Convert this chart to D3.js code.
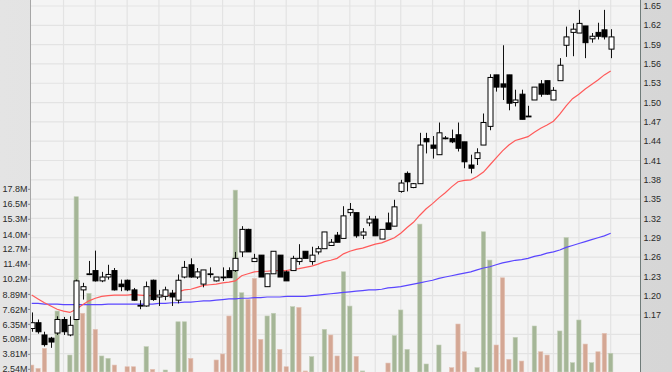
<!DOCTYPE html>
<html>
<head>
<meta charset="utf-8">
<script src="https://cdn.jsdelivr.net/npm/d3@7"></script>
<style>
    body { margin: 0; background: #fff; }
    svg { display: block; font-family: "Liberation Sans", Arial, sans-serif; }
</style>
</head>
<body>
<div id="chart"></div>
<script>
// Daily candles (price)
const opens = [1.149,1.158,1.139,1.134,1.142,1.163,1.139,1.163,1.209,1.234,
    1.239,1.223,1.229,1.239,1.218,1.224,1.209,1.185,1.184,1.224,
    1.198,1.199,1.204,1.193,1.229,1.248,1.229,1.218,1.234,1.223,
    1.229,1.239,1.239,1.268,1.303,1.253,1.263,1.214,1.234,1.263,
    1.237,1.239,1.253,1.269,1.253,1.268,1.273,1.278,1.294,1.289,
    1.329,1.329,1.294,1.313,1.319,1.288,1.313,1.308,1.362,1.390,
    1.368,1.374,1.444,1.434,1.419,1.444,1.444,1.450,1.439,1.403,
    1.413,1.434,1.463,1.543,1.529,1.543,1.500,1.513,1.479,1.504,
    1.529,1.534,1.504,1.534,1.589,1.609,1.608,1.619,1.599,1.609,
    1.613,1.583];
const highs = [1.174,1.163,1.144,1.136,1.168,1.167,1.168,1.225,1.220,1.254,
    1.270,1.237,1.248,1.243,1.225,1.225,1.212,1.193,1.222,1.225,
    1.209,1.214,1.209,1.233,1.254,1.258,1.243,1.240,1.244,1.229,
    1.244,1.244,1.268,1.308,1.304,1.265,1.263,1.234,1.269,1.263,
    1.239,1.262,1.280,1.269,1.276,1.277,1.299,1.288,1.299,1.339,
    1.344,1.329,1.305,1.324,1.324,1.303,1.329,1.349,1.380,1.393,
    1.375,1.453,1.453,1.448,1.469,1.448,1.458,1.469,1.439,1.419,
    1.429,1.483,1.544,1.543,1.589,1.543,1.520,1.520,1.495,1.524,
    1.535,1.534,1.524,1.569,1.618,1.623,1.644,1.619,1.608,1.624,
    1.644,1.614];
const lows = [1.144,1.141,1.121,1.119,1.139,1.139,1.137,1.162,1.194,1.232,
    1.222,1.221,1.225,1.208,1.207,1.207,1.192,1.179,1.183,1.192,
    1.184,1.193,1.184,1.188,1.227,1.228,1.226,1.213,1.228,1.222,
    1.223,1.228,1.237,1.260,1.268,1.253,1.229,1.214,1.234,1.229,
    1.223,1.239,1.248,1.258,1.248,1.264,1.273,1.278,1.283,1.289,
    1.324,1.290,1.288,1.308,1.293,1.288,1.303,1.308,1.360,1.362,
    1.367,1.374,1.421,1.413,1.419,1.443,1.437,1.424,1.398,1.390,
    1.403,1.434,1.457,1.517,1.504,1.488,1.494,1.474,1.479,1.504,
    1.509,1.512,1.504,1.534,1.571,1.572,1.608,1.569,1.593,1.598,
    1.598,1.569];
const closes = [1.158,1.144,1.124,1.128,1.163,1.144,1.154,1.223,1.214,1.234,
    1.223,1.229,1.233,1.209,1.214,1.209,1.193,1.185,1.214,1.194,
    1.201,1.209,1.198,1.224,1.244,1.229,1.237,1.240,1.234,1.229,
    1.229,1.228,1.258,1.303,1.268,1.258,1.229,1.234,1.269,1.229,
    1.223,1.258,1.258,1.258,1.263,1.273,1.299,1.283,1.283,1.324,
    1.334,1.293,1.299,1.319,1.293,1.303,1.303,1.338,1.375,1.377,
    1.374,1.434,1.439,1.429,1.453,1.445,1.439,1.429,1.408,1.398,
    1.422,1.469,1.539,1.524,1.524,1.499,1.504,1.474,1.479,1.524,
    1.513,1.513,1.519,1.558,1.602,1.614,1.623,1.593,1.603,1.603,
    1.602,1.602];

// Volume in millions, and whether the bar is drawn as an up day (green)
const volumes = [2.90,2.62,4.32,2.00,7.48,2.00,3.75,17.17,7.29,8.98,
    5.93,3.67,3.47,2.90,2.00,2.76,2.76,2.00,4.46,2.54,
    2.00,2.48,2.00,6.57,6.57,3.47,2.00,2.00,2.00,3.33,
    3.84,7.06,17.73,9.03,8.47,10.25,5.08,7.06,7.29,4.23,
    2.76,7.85,7.79,2.40,3.61,2.00,5.93,5.45,3.67,10.81,
    7.90,3.64,2.40,2.00,2.00,2.00,3.07,5.40,7.57,4.23,
    2.00,14.85,2.99,2.00,4.60,2.00,2.68,6.38,4.03,2.00,
    2.68,14.20,11.80,4.60,10.30,3.39,5.25,3.24,2.00,6.21,
    4.03,3.75,2.00,5.79,13.71,3.10,6.72,4.68,3.10,4.03,
    5.59,3.90];
const volumeUp = [0,0,0,0,1,0,1,1,0,1,
    0,1,1,0,0,0,0,1,1,0,
    0,1,0,1,1,0,1,1,1,0,
    0,0,1,1,0,0,0,1,1,0,
    0,1,0,0,1,1,1,0,0,1,
    1,0,1,0,1,0,0,1,1,1,
    0,1,1,1,1,0,0,0,0,0,
    1,1,1,0,0,0,1,0,1,1,
    0,0,1,1,1,1,1,0,1,0,
    0,1];

// Moving averages as drawn (red = short, blue = long)
const maShort = [1.201,1.195,1.189,1.184,1.179,1.176,1.174,1.179,1.186,1.192,
    1.196,1.199,1.200,1.201,1.201,1.201,1.202,1.201,1.200,1.200,
    1.200,1.200,1.201,1.206,1.209,1.210,1.213,1.216,1.217,1.218,
    1.220,1.221,1.223,1.231,1.234,1.237,1.238,1.238,1.239,1.239,
    1.239,1.241,1.242,1.244,1.246,1.249,1.253,1.255,1.258,1.265,
    1.269,1.272,1.274,1.277,1.280,1.282,1.286,1.290,1.297,1.306,
    1.314,1.325,1.335,1.343,1.352,1.360,1.369,1.377,1.379,1.380,
    1.385,1.392,1.403,1.414,1.425,1.434,1.441,1.444,1.447,1.454,
    1.460,1.465,1.471,1.482,1.495,1.506,1.513,1.521,1.528,1.535,
    1.543,1.549];
const maLong = [1.188,1.188,1.187,1.187,1.187,1.186,1.186,1.186,1.186,1.186,
    1.186,1.186,1.187,1.187,1.187,1.187,1.187,1.187,1.187,1.187,
    1.188,1.188,1.189,1.189,1.190,1.190,1.191,1.192,1.192,1.193,
    1.194,1.195,1.195,1.196,1.196,1.197,1.197,1.198,1.198,1.198,
    1.199,1.199,1.199,1.199,1.200,1.201,1.202,1.203,1.204,1.205,
    1.206,1.207,1.208,1.209,1.209,1.210,1.212,1.213,1.214,1.216,
    1.218,1.220,1.222,1.224,1.227,1.229,1.231,1.233,1.235,1.237,
    1.240,1.243,1.245,1.248,1.251,1.253,1.255,1.256,1.258,1.261,
    1.263,1.266,1.268,1.271,1.275,1.278,1.281,1.284,1.287,1.290,
    1.293,1.297];

// Axis ticks
const priceTicks = [1.17,1.20,1.23,1.26,1.29,1.32,1.35,1.38,1.41,1.44,1.47,1.50,1.53,1.56,1.59,1.62,1.65];
const priceGrid = [1.08,1.11,1.14].concat(priceTicks);
const volumeTicks = [2.54,3.81,5.08,6.35,7.62,8.89,10.17,11.44,12.71,13.98,15.26,16.53,17.8];
// candle index where each weekly vertical grid line sits
const weekLines = [5,10,15,20,25,30,35,40,45,50,54,58,63,68,73,78,82,86,91];

function drawChart() {
    const W = 672, H = 372;
    const plot = { left: 31, right: 641, top: 0, bottom: 372 };

    const svg = d3.select("#chart").append("svg")
        .attr("width", W)
        .attr("height", H);

    const defs = svg.append("defs");
    const grad = defs.append("linearGradient").attr("id", "side");
    grad.append("stop").attr("offset", "0%").attr("stop-color", "#e4e4e4");
    grad.append("stop").attr("offset", "100%").attr("stop-color", "#d6d6d6");
    defs.append("clipPath").attr("id", "plotClip")
        .append("rect")
        .attr("x", plot.left).attr("y", plot.top)
        .attr("width", plot.right - plot.left).attr("height", plot.bottom - plot.top);

    // Side panels and plot background
    svg.append("rect").attr("x", 0).attr("y", 0).attr("width", W).attr("height", H).attr("fill", "url(#side)");
    svg.append("rect")
        .attr("x", plot.left).attr("y", plot.top)
        .attr("width", plot.right - plot.left).attr("height", plot.bottom - plot.top)
        .attr("fill", "#f4f4f4");

    // Scales
    const xScale = d3.scaleLinear().domain([0, closes.length - 1]).range([31.7, 610.7]);
    const yPrice = d3.scaleLinear().domain([1.17, 1.65]).range([315, 6]);
    const yVol = d3.scaleLinear().domain([2.54, 17.8]).range([369.3, 189.3]);

    const g = svg.append("g").attr("clip-path", "url(#plotClip)");

    // Grid
    g.selectAll(".hgrid").data(priceGrid).join("line")
        .attr("x1", plot.left).attr("x2", plot.right)
        .attr("y1", d => yPrice(d)).attr("y2", d => yPrice(d))
        .attr("stroke", "#e3e3e3").attr("stroke-width", 1.2);
    g.selectAll(".vgrid").data(weekLines).join("line")
        .attr("x1", d => xScale(d)).attr("x2", d => xScale(d))
        .attr("y1", plot.top).attr("y2", plot.bottom)
        .attr("stroke", "#e3e3e3").attr("stroke-width", 1.2);

    // Volume bars
    const barW = 4.3;
    g.selectAll(".vol").data(volumes).join("rect")
        .attr("x", (d, i) => xScale(i) - barW / 2)
        .attr("y", d => yVol(d))
        .attr("width", barW)
        .attr("height", d => Math.max(0, plot.bottom - yVol(d)))
        .attr("fill", (d, i) => volumeUp[i] ? "#a5b697" : "#d4a794")
        .attr("stroke", (d, i) => volumeUp[i] ? "#c3cfb8" : "#e4c4b7")
        .attr("stroke-width", 0.6);

    // Moving averages
    const line = d3.line().x((d, i) => xScale(i)).y(d => yPrice(d));
    g.append("path").datum(maLong)
        .attr("fill", "none").attr("stroke", "#5a46ff").attr("stroke-width", 1.2)
        .attr("d", line);
    g.append("path").datum(maShort)
        .attr("fill", "none").attr("stroke", "#ff5a5a").attr("stroke-width", 1.2)
        .attr("d", line);

    // Candles
    const candles = closes.map((c, i) => ({ i: i, o: opens[i], h: highs[i], l: lows[i], c: c }));
    const bodyW = 5;
    const cg = g.selectAll(".candle").data(candles).join("g");
    cg.append("line")
        .attr("x1", d => Math.round(xScale(d.i)) + 0.5).attr("x2", d => Math.round(xScale(d.i)) + 0.5)
        .attr("y1", d => yPrice(d.h)).attr("y2", d => yPrice(d.l))
        .attr("stroke", "#111").attr("stroke-width", 1);
    cg.append("rect")
        .attr("x", d => Math.round(xScale(d.i)) + 0.5 - bodyW / 2)
        .attr("y", d => yPrice(Math.max(d.o, d.c)))
        .attr("width", bodyW)
        .attr("height", d => Math.max(0.8, Math.abs(yPrice(d.o) - yPrice(d.c))))
        .attr("fill", d => d.c >= d.o ? "#ffffff" : "#000000")
        .attr("stroke", "#000").attr("stroke-width", 1);

    // Panel borders
    svg.append("line").attr("x1", 30.5).attr("x2", 30.5).attr("y1", 0).attr("y2", H)
        .attr("stroke", "#a6a6a6");
    svg.append("line").attr("x1", 640.5).attr("x2", 640.5).attr("y1", 0).attr("y2", H)
        .attr("stroke", "#6f7b79");

    // Price labels (right)
    svg.selectAll(".plabel").data(priceTicks).join("text")
        .attr("x", 643.5)
        .attr("y", d => yPrice(d))
        .attr("dy", "0.35em")
        .attr("font-size", 9)
        .attr("fill", "#2a2a2a")
        .text(d => d3.format(".2f")(d));

    // Volume labels (left)
    svg.selectAll(".vtick").data(volumeTicks).join("line")
        .attr("x1", 28).attr("x2", 30)
        .attr("y1", d => yVol(d)).attr("y2", d => yVol(d))
        .attr("stroke", "#888");
    svg.selectAll(".vlabel").data(volumeTicks).join("text")
        .attr("x", 27.5)
        .attr("y", d => yVol(d))
        .attr("dy", "0.35em")
        .attr("text-anchor", "end")
        .attr("font-size", 9)
        .attr("fill", "#2a2a2a")
        .text(d => d3.format(".3r")(d) + "M");
}

drawChart();
</script>
</body>
</html>
